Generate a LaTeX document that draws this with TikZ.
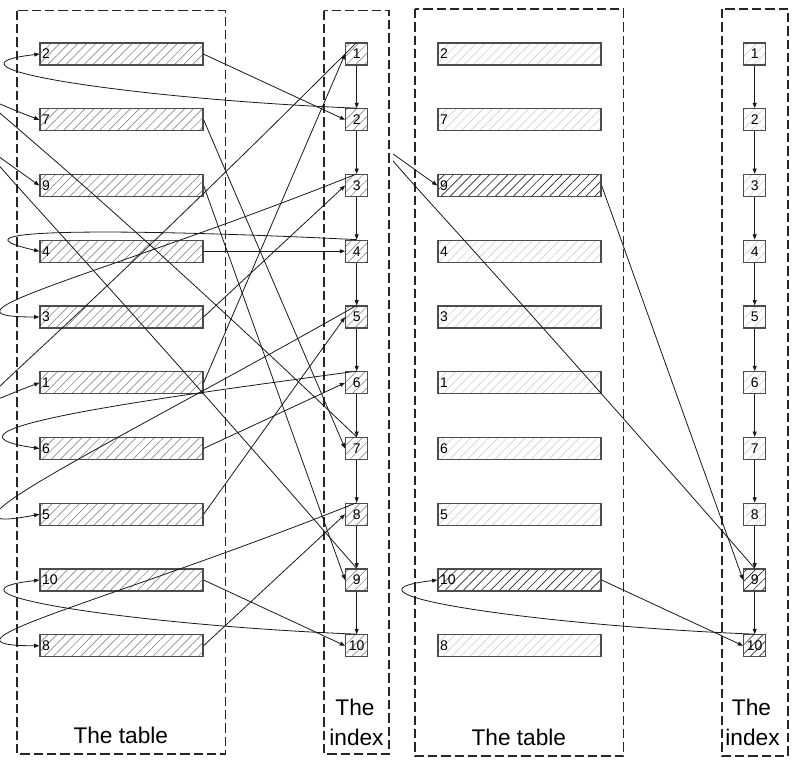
\documentclass[tikz,border=0pt]{standalone}
\usepackage{fontspec}
\setmainfont{Liberation Sans}
\usetikzlibrary{patterns.meta,arrows.meta}
\begin{document}
\begin{tikzpicture}[x=0.75pt,y=-0.75pt,
  frame/.style={draw=black!85,line width=0.8pt,dash pattern=on 7pt off 3pt},
  rowbox/.style={draw=black!70,line width=0.9pt,minimum width=122.25pt,minimum height=16.5pt,
    text width=119pt,align=left,inner xsep=1.6pt,inner ysep=0pt,
    font=\fontsize{10.5}{11}\selectfont,
    pattern={Lines[angle=45,distance=4.8pt,line width=0.5pt]}},
  idxbox/.style={draw=black!70,line width=0.9pt,minimum size=16.5pt,inner sep=0pt,
    font=\fontsize{10.5}{11}\selectfont,
    pattern={Lines[angle=45,distance=4.8pt,line width=0.5pt]}},
  conn/.style={draw=black!90,line width=0.6pt,-{Triangle[length=4pt,width=3pt]}},
  lbl/.style={font=\fontsize{17}{20}\selectfont,inner sep=0pt,anchor=base}
]
\useasboundingbox (0,0) rectangle (797,764);

% ---------- left half ----------
\draw[frame] (17,10.5) rectangle (225.5,754);
\draw[frame] (324,10.5) rectangle (389,754);
\node[lbl] (lt) at (120.8,743) {The table};
\node[lbl] (lx1) at (355,715) {The};
\node[lbl] (lx2) at (356.5,745) {index};

\foreach \k [count=\i from 0] in {2,7,9,4,3,1,6,5,10,8}
  \node[rowbox,pattern color=black!45] (lr\k) at (121.5,{54+65.75*\i}) {\k};
\foreach \k in {1,...,10}
  \node[idxbox,pattern color=black!45] (li\k) at (356.7,{54+65.75*(\k-1)}) {\k};

\foreach \k [evaluate=\k as \n using int(\k+1)] in {1,...,9}
  \draw[conn] (li\k.south) -- (li\n.north);
\foreach \k in {1,...,10}
  \draw[conn] (lr\k.east) -- (li\k.west);
\foreach \k/\ux/\uy/\vx/\vy in {1/-400/400/-100/37, 2/-206/-8/-120/14, 3/-250/100/-120/0,
  4/-200/-10/-110/-25, 5/-250/142/-130/25, 6/-200/27/-125/-18, 7/-400/-380/-100/-37,
  8/-250/100/-120/0, 9/-396/-455/-100/-70, 10/-206/-8/-120/14}
  \draw[conn] (li\k.north) .. controls +(\ux,\uy) and +(\vx,\vy) .. (lr\k.west);

% ---------- right half ----------
\begin{scope}[shift={(398,0)}]
\draw[frame] (17,9) rectangle (225.5,756);
\draw[frame] (324,9) rectangle (390,756);
\node[lbl] (rt) at (120.8,745) {The table};
\node[lbl] (rx1) at (353.5,715) {The};
\node[lbl] (rx2) at (354.5,745) {index};

\foreach \k/\pc [count=\i from 0] in {2/black!18,7/black!18,9/black!85,4/black!18,3/black!18,
  1/black!18,6/black!18,5/black!18,10/black!85,8/black!18}
  \node[rowbox,pattern color=\pc] (rr\k) at (121.5,{54+65.75*\i}) {\k};
\foreach \k/\pc in {1/black!18,2/black!18,3/black!18,4/black!18,5/black!18,6/black!18,
  7/black!18,8/black!18,9/black!85,10/black!85}
  \node[idxbox,pattern color=\pc] (ri\k) at (356.7,{54+65.75*(\k-1)}) {\k};

\foreach \k [evaluate=\k as \n using int(\k+1)] in {1,...,9}
  \draw[conn] (ri\k.south) -- (ri\n.north);
\foreach \k in {9,10}
  \draw[conn] (rr\k.east) -- (ri\k.west);
\begin{scope}
\clip (-5,0) rectangle (400,764);
\draw[conn] (ri9.north) .. controls +(-396,-455) and +(-100,-70) .. (rr9.west);
\draw[conn] (ri10.north) .. controls +(-206,-8) and +(-120,14) .. (rr10.west);
\end{scope}
\end{scope}
\end{tikzpicture}
\end{document}
